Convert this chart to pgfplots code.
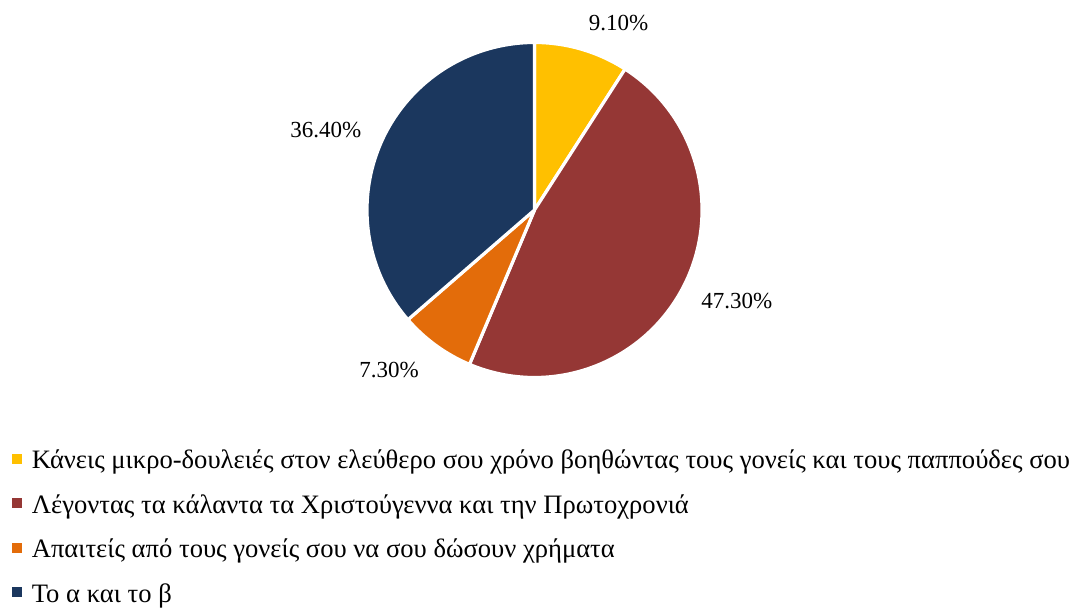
\documentclass[border=0pt]{standalone}
\usepackage{fontspec}
\setmainfont{Liberation Serif}
\usepackage{pgfplots}
\usepackage{pgfplotstable}
\pgfplotsset{compat=1.18}

\definecolor{pieA}{HTML}{FFC000}
\definecolor{pieB}{HTML}{953735}
\definecolor{pieC}{HTML}{E36C0A}
\definecolor{pieD}{HTML}{1B375E}

% shares in percent, in drawing order (clockwise from 12 o'clock)
\pgfplotstableread{
share
9.10
47.30
7.30
36.40
}\piedata

\pgfplotstablegetelem{0}{share}\of\piedata\edef\sA{\pgfplotsretval}
\pgfplotstablegetelem{1}{share}\of\piedata\edef\sB{\pgfplotsretval}
\pgfplotstablegetelem{2}{share}\of\piedata\edef\sC{\pgfplotsretval}
\pgfplotstablegetelem{3}{share}\of\piedata\edef\sD{\pgfplotsretval}
\pgfmathsetmacro\total{\sA+\sB+\sC+\sD}
\pgfmathsetmacro\aA{90}
\pgfmathsetmacro\aB{\aA-360*(\sA/\total)}
\pgfmathsetmacro\aC{\aB-360*(\sB/\total)}
\pgfmathsetmacro\aD{\aC-360*(\sC/\total)}
\pgfmathsetmacro\aE{\aD-360*(\sD/\total)}

% one slice: colour, start angle, end angle
\newcommand\pieslice[3]{%
  \filldraw[fill=#1, draw=white, line width=1.6pt, line join=round]
    (axis cs:534.5,398) -- ++(#2:83.75pt)
    arc[start angle=#2, end angle=#3, radius=83.75pt] -- cycle;}

\begin{document}
\fontsize{11.5pt}{13.8pt}\selectfont
\begin{tikzpicture}
\useasboundingbox (0,0) rectangle (537pt,304pt);
\begin{axis}[
  at={(0,0)}, anchor=south west,
  hide axis, clip=false,
  x=0.5pt, y=0.5pt,
  xmin=0, xmax=1074, ymin=0, ymax=608,
  legend cell align=left,
  legend image code/.code={\fill[#1] (0pt,-2.25pt) rectangle (4.5pt,2.25pt);},
  legend style={
    at={(axis cs:12,160)}, anchor=north west,
    draw=none, fill=none, inner sep=0pt, outer sep=0pt,
    row sep=11.75pt,
    font=\fontsize{13.3pt}{16pt}\selectfont,
    nodes={inner sep=0pt, text height=10.5pt, text depth=0pt},
    /tikz/every odd column/.append style={column sep=5pt},
  },
]
\pieslice{pieA}{\aA}{\aB}
\pieslice{pieB}{\aB}{\aC}
\pieslice{pieC}{\aC}{\aD}
\pieslice{pieD}{\aD}{\aE}

\node[anchor=base] at (axis cs:618.5,577) {9.10\%};
\node[anchor=base] at (axis cs:736.7,299) {47.30\%};
\node[anchor=base] at (axis cs:389,230) {7.30\%};
\node[anchor=base] at (axis cs:325.7,470.7) {36.40\%};

\addlegendimage{pieA}
\addlegendentry{Κάνεις μικρο-δουλειές στον ελεύθερο σου χρόνο βοηθώντας τους γονείς και τους παππούδες σου}
\addlegendimage{pieB}
\addlegendentry{Λέγοντας τα κάλαντα τα Χριστούγεννα και την Πρωτοχρονιά}
\addlegendimage{pieC}
\addlegendentry{Απαιτείς από τους γονείς σου να σου δώσουν χρήματα}
\addlegendimage{pieD}
\addlegendentry{Το α και το β}
\end{axis}
\end{tikzpicture}
\end{document}
